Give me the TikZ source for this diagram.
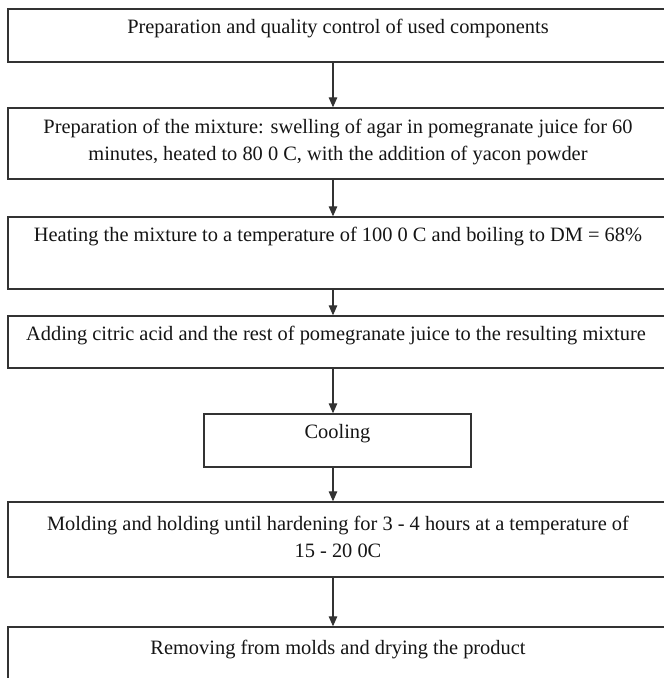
\documentclass[tikz,border=0pt]{standalone}
\usepackage{fontspec}
\setmainfont{Liberation Serif}
\usetikzlibrary{arrows.meta}
\definecolor{linegray}{HTML}{333333}
\definecolor{textblack}{HTML}{151515}
\tikzset{
  stepbox/.style={draw=linegray, line width=1.3pt, inner sep=0pt, minimum width=660pt},
  smallbox/.style={draw=linegray, line width=1.3pt, inner sep=0pt, minimum width=267pt},
  lbl/.style={inner sep=0pt, text=textblack, align=center, font=\fontsize{20.4}{27}\selectfont},
  arr/.style={draw=linegray, line width=1.2pt, -{Triangle[length=10pt,width=8.5pt]}}
}
\begin{document}
\begin{tikzpicture}[x=1pt,y=-1pt]
\clip (0,0) rectangle (664,678);
\fill[white] (0,0) rectangle (664,678);
\coordinate (ax) at (333,0);
% boxes
\node[stepbox, minimum height=53pt] (b1) at (338,35.5) {};
\node[stepbox, minimum height=71pt] (b2) at (338,143.5) {};
\node[stepbox, minimum height=72pt] (b3) at (338,253) {};
\node[stepbox, minimum height=52pt] (b4) at (338,342) {};
\node[smallbox, minimum height=53pt] (b5) at (337.5,440.5) {};
\node[stepbox, minimum height=75pt] (b6) at (338,539.5) {};
\node[stepbox, minimum height=73pt] (b7) at (338,663.5) {};
% texts
\node[lbl] (t1) at (338,29) {Preparation and quality control of used components};
\node[lbl] (t2) at (338,142.5) {Preparation of the mixture: swelling of agar in pomegranate juice for 60\\minutes, heated to 80 0 C, with the addition of yacon powder};
\node[lbl] (t3) at (338,237) {Heating the mixture to a temperature of 100 0 C and boiling to DM = 68\%};
\node[lbl] (t4) at (336,336) {Adding citric acid and the rest of pomegranate juice to the resulting mixture};
\node[lbl] (t5) at (337.5,434) {Cooling};
\node[lbl] (t6) at (338,536.5) {Molding and holding until hardening for 3 - 4 hours at a temperature of\\15 - 20 0C};
\node[lbl] (t7) at (338,650) {Removing from molds and drying the product};
% arrows
\draw[arr] (b1.south -| ax) -- (b2.north -| ax);
\draw[arr] (b2.south -| ax) -- (b3.north -| ax);
\draw[arr] (b3.south -| ax) -- (b4.north -| ax);
\draw[arr] (b4.south -| ax) -- (b5.north -| ax);
\draw[arr] (b5.south -| ax) -- (b6.north -| ax);
\draw[arr] (b6.south -| ax) -- (b7.north -| ax);
\end{tikzpicture}
\end{document}
